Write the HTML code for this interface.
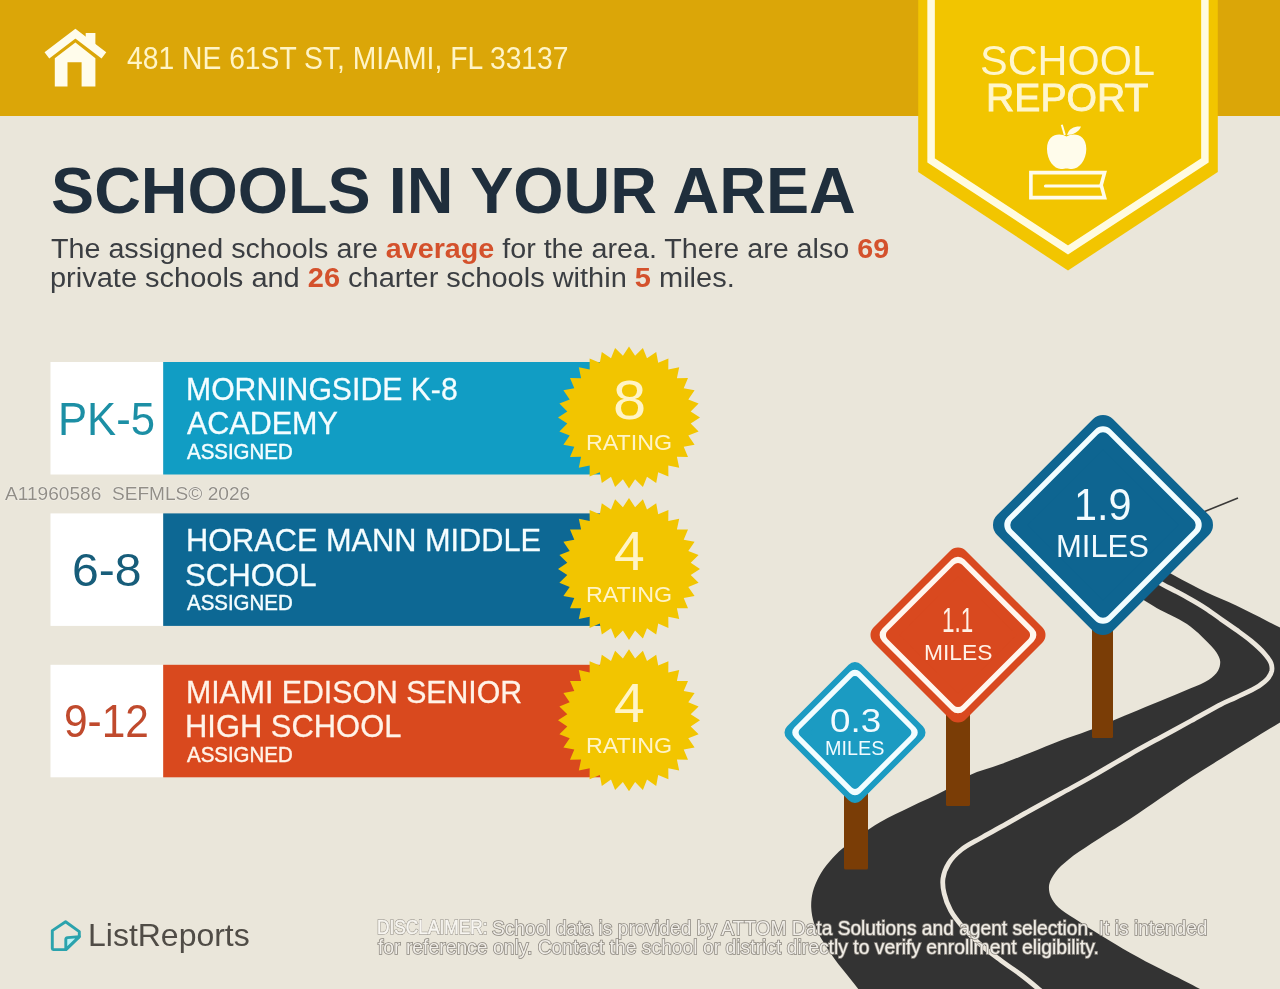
<!DOCTYPE html>
<html><head><meta charset="utf-8"><title>School Report</title>
<style>
html,body{margin:0;padding:0;background:#EAE6DA;}
body{width:1280px;height:989px;overflow:hidden;position:relative;background:#EAE6DA;font-family:'Liberation Sans', sans-serif;}
.s{position:absolute;left:0;top:0;}
.t{position:absolute;white-space:nowrap;line-height:1;transform-origin:0 0;}
.t b{font-weight:700;}
</style></head><body>
<svg class="s" width="1280" height="989" viewBox="0 0 1280 989"><rect x="0" y="0" width="1280" height="116" fill="#DBA608"/>
<polyline points="46.9,55.3 75.4,33.6 103.9,55.3" fill="none" stroke="#FFFCEB" stroke-width="7.8" stroke-linejoin="miter"/>
<polygon points="85.7,32.9 95.4,32.9 95.4,46 85.7,38.5" fill="#FFFCEB"/>
<path d="M54.8,86.6 V58.2 L75.4,42.6 L95.4,58.2 V86.6 H81.6 V62.2 H67.5 V86.6 Z" fill="#FFFCEB"/>
<polygon points="918.2,-2 1217.8,-2 1217.8,172 1068,270.5 918.2,172" fill="#F2C500"/>
<polyline points="931.1,-5 931.1,160.5 1068,250 1204.9,160.5 1204.9,-5" fill="none" stroke="#FFFBE0" stroke-width="7.5"/>
<path d="M1066.5,136.5 C1060,132.5 1047,133.5 1047,149 C1047,160 1054,169 1061,169 C1063.5,169 1065,168.5 1066.5,168.5 C1068,168.5 1069.5,169 1072,169 C1079,169 1086.3,160 1086.3,149 C1086.3,133.5 1073,132.5 1066.5,136.5 Z" fill="#FFFCEB"/>
<path d="M1061.8,124.8 L1064.8,135" stroke="#FFFCEB" stroke-width="2" fill="none"/>
<path d="M1067,135 C1069,128 1075,126 1081,126.5 C1079,132 1073,135 1067,135 Z" fill="#FFFCEB"/>
<path d="M1104.6,172.6 H1030.9 V197.6 H1104.6 L1101.2,185.1 Z" fill="none" stroke="#FFFCEB" stroke-width="3.6" stroke-linejoin="miter"/>
<path d="M1045.5,186 H1101" stroke="#FFFCEB" stroke-width="3.2" stroke-linecap="round"/>
<rect x="50.5" y="362" width="112.7" height="112.5" fill="#FFFFFF"/>
<rect x="163.2" y="362" width="440" height="112.5" fill="#119DC4"/>
<polygon points="629.0,346.5 635.1,355.8 642.9,347.9 647.0,358.2 656.2,351.9 658.2,362.8 668.4,358.5 668.3,369.6 679.2,367.3 676.9,378.2 688.0,378.1 683.7,388.3 694.6,390.3 688.3,399.5 698.6,403.6 690.7,411.4 700.0,417.5 690.7,423.6 698.6,431.4 688.3,435.5 694.6,444.7 683.7,446.7 688.0,456.9 676.9,456.8 679.2,467.7 668.3,465.4 668.4,476.5 658.2,472.2 656.2,483.1 647.0,476.8 642.9,487.1 635.1,479.2 629.0,488.5 622.9,479.2 615.1,487.1 611.0,476.8 601.8,483.1 599.8,472.2 589.6,476.5 589.7,465.4 578.8,467.7 581.1,456.8 570.0,456.9 574.3,446.7 563.4,444.7 569.7,435.5 559.4,431.4 567.3,423.6 558.0,417.5 567.3,411.4 559.4,403.6 569.7,399.5 563.4,390.3 574.3,388.3 570.0,378.1 581.1,378.2 578.8,367.3 589.7,369.6 589.6,358.5 599.8,362.8 601.8,351.9 611.0,358.2 615.1,347.9 622.9,355.8" fill="#F2C500"/>
<rect x="50.5" y="513.4" width="112.7" height="112.5" fill="#FFFFFF"/>
<rect x="163.2" y="513.4" width="440" height="112.5" fill="#0D6894"/>
<polygon points="629.0,497.9 635.1,507.2 642.9,499.3 647.0,509.6 656.2,503.3 658.2,514.2 668.4,509.9 668.3,521.0 679.2,518.7 676.9,529.6 688.0,529.5 683.7,539.7 694.6,541.7 688.3,550.9 698.6,555.0 690.7,562.8 700.0,568.9 690.7,575.0 698.6,582.8 688.3,586.9 694.6,596.1 683.7,598.1 688.0,608.3 676.9,608.2 679.2,619.1 668.3,616.8 668.4,627.9 658.2,623.6 656.2,634.5 647.0,628.2 642.9,638.5 635.1,630.6 629.0,639.9 622.9,630.6 615.1,638.5 611.0,628.2 601.8,634.5 599.8,623.6 589.6,627.9 589.7,616.8 578.8,619.1 581.1,608.2 570.0,608.3 574.3,598.1 563.4,596.1 569.7,586.9 559.4,582.8 567.3,575.0 558.0,568.9 567.3,562.8 559.4,555.0 569.7,550.9 563.4,541.7 574.3,539.7 570.0,529.5 581.1,529.6 578.8,518.7 589.7,521.0 589.6,509.9 599.8,514.2 601.8,503.3 611.0,509.6 615.1,499.3 622.9,507.2" fill="#F2C500"/>
<rect x="50.5" y="664.8" width="112.7" height="112.5" fill="#FFFFFF"/>
<rect x="163.2" y="664.8" width="440" height="112.5" fill="#D9491E"/>
<polygon points="629.0,649.3 635.1,658.6 642.9,650.7 647.0,661.0 656.2,654.7 658.2,665.6 668.4,661.3 668.3,672.4 679.2,670.1 676.9,681.0 688.0,680.9 683.7,691.1 694.6,693.1 688.3,702.3 698.6,706.4 690.7,714.2 700.0,720.3 690.7,726.4 698.6,734.2 688.3,738.3 694.6,747.5 683.7,749.5 688.0,759.7 676.9,759.6 679.2,770.5 668.3,768.2 668.4,779.3 658.2,775.0 656.2,785.9 647.0,779.6 642.9,789.9 635.1,782.0 629.0,791.3 622.9,782.0 615.1,789.9 611.0,779.6 601.8,785.9 599.8,775.0 589.6,779.3 589.7,768.2 578.8,770.5 581.1,759.6 570.0,759.7 574.3,749.5 563.4,747.5 569.7,738.3 559.4,734.2 567.3,726.4 558.0,720.3 567.3,714.2 559.4,706.4 569.7,702.3 563.4,693.1 574.3,691.1 570.0,680.9 581.1,681.0 578.8,670.1 589.7,672.4 589.6,661.3 599.8,665.6 601.8,654.7 611.0,661.0 615.1,650.7 622.9,658.6" fill="#F2C500"/>
<path d="M1140,557 C1150.8,562.8 1163.2,569.4 1172.5,574.4 C1179.4,578.1 1184.9,581.3 1190.7,584.3 C1195.9,587.0 1200.7,589.5 1205.8,591.9 C1210.8,594.3 1215.9,596.4 1221.0,598.7 C1226.1,601.0 1231.2,603.1 1236.2,605.5 C1241.3,607.9 1246.3,610.6 1251.3,613.1 C1256.4,615.6 1261.6,618.2 1266.5,620.7 C1271.1,623.0 1275.1,625.0 1280.0,627.5 C1286.0,630.5 1293.3,634.2 1300.0,637.5 L1310,640 L1310,712 L1300,710.5 C1293.3,714.5 1287.3,718.1 1280.0,722.5 C1271.3,727.8 1261.0,734.0 1251.3,740.0 C1241.3,746.1 1231.1,752.5 1221.0,758.8 C1210.9,765.1 1200.8,771.2 1190.7,777.7 C1180.5,784.3 1170.4,791.3 1160.3,798.2 C1150.2,805.1 1140.8,811.9 1130.0,819.0 C1117.9,827.0 1102.1,836.4 1091.0,843.8 C1082.4,849.5 1074.9,854.3 1068.6,859.5 C1063.4,863.8 1058.6,867.9 1055.3,872.4 C1052.5,876.3 1049.9,880.4 1049.2,884.5 C1048.5,888.4 1049.2,892.9 1050.7,896.6 C1052.2,900.5 1055.0,904.0 1058.3,907.3 C1062.3,911.3 1068.1,914.4 1074.0,918.3 C1081.3,923.2 1090.8,929.2 1099.0,934.3 C1106.9,939.2 1114.1,943.5 1122.5,948.4 C1132.1,953.9 1143.3,960.1 1153.8,965.6 C1164.1,971.0 1176.5,976.9 1185.0,981.2 C1190.9,984.2 1194.2,985.9 1200.0,989.0 C1208.3,993.4 1220.0,999.7 1230.0,1005.0 L870,1005 C866.1,999.7 862.2,994.1 858.3,989.0 C854.7,984.3 851.3,980.1 847.6,975.5 C843.7,970.6 839.4,965.7 835.5,960.3 C831.3,954.6 827.0,948.3 823.4,942.1 C819.9,936.1 816.3,930.0 814.3,923.9 C812.4,918.4 811.4,912.7 811.2,907.3 C811.0,902.1 811.6,897.1 812.8,892.1 C814.1,886.9 816.2,881.8 818.8,876.9 C821.6,871.7 825.4,866.5 829.4,861.8 C833.5,856.9 837.1,853.1 843.1,848.1 C852.2,840.5 868.0,829.3 880.0,822.2 C890.4,816.0 899.8,812.1 910.3,807.0 C921.5,801.5 934.8,796.0 945.2,790.3 C954.2,785.4 960.7,779.4 969.5,775.2 C979.0,770.7 990.3,768.1 1000.5,764.3 C1010.6,760.6 1020.3,756.7 1030.3,752.8 C1040.4,748.8 1050.8,744.4 1060.7,740.6 C1070.0,737.1 1078.0,734.7 1088.0,730.8 C1100.6,726.0 1117.1,718.7 1130.0,713.4 C1140.9,708.9 1150.2,705.2 1160.3,701.0 C1170.4,696.8 1181.9,692.2 1190.7,688.3 C1197.6,685.3 1204.1,683.2 1208.9,679.8 C1212.7,677.1 1216.1,674.0 1218.0,670.7 C1219.6,667.9 1220.4,664.6 1220.2,661.6 C1220.0,658.5 1218.4,655.6 1216.5,652.5 C1214.0,648.5 1209.8,644.4 1205.8,640.4 C1201.3,635.9 1195.9,630.6 1190.7,626.7 C1185.8,623.1 1180.6,620.4 1175.5,617.6 C1170.5,614.9 1165.3,612.7 1160.3,610.0 C1155.2,607.2 1151.1,604.5 1145.2,601.0 C1136.9,596.0 1125.1,589.0 1115.0,583.0 Z" fill="#333333"/>
<path d="M1130.0,566.0 C1140.9,572.1 1154.2,579.7 1162.6,584.3 C1167.9,587.2 1171.0,588.7 1175.5,591.1 C1180.4,593.7 1185.7,596.5 1190.7,599.4 C1195.8,602.3 1200.8,605.2 1205.8,608.5 C1210.9,611.8 1215.9,615.6 1221.0,619.2 C1226.1,622.7 1231.2,626.2 1236.2,629.8 C1241.3,633.5 1246.6,637.2 1251.3,641.1 C1255.7,644.8 1260.1,648.6 1263.5,652.5 C1266.5,655.9 1269.7,659.7 1271.0,663.1 C1272.0,665.7 1272.2,668.2 1271.8,670.7 C1271.3,673.3 1269.9,675.9 1268.0,678.3 C1265.8,681.1 1262.8,683.3 1258.9,685.9 C1253.2,689.6 1243.0,694.0 1236.2,697.3 C1230.7,700.0 1226.9,701.3 1221.0,704.3 C1212.6,708.6 1200.8,715.5 1190.7,721.0 C1180.6,726.6 1170.4,732.0 1160.3,737.6 C1150.2,743.1 1140.7,748.2 1130.0,754.3 C1117.8,761.2 1103.2,770.1 1091.0,777.0 C1080.3,783.1 1070.8,788.1 1060.7,793.7 C1050.6,799.3 1040.3,804.8 1030.3,810.4 C1020.5,815.8 1010.2,821.8 1001.3,826.7 C993.8,830.9 987.2,834.3 980.5,838.2 C974.0,841.9 967.0,845.1 961.6,849.5 C956.6,853.5 951.8,858.2 948.7,863.2 C945.8,867.9 943.7,873.3 943.0,878.4 C942.3,883.4 943.0,888.5 944.2,893.6 C945.4,899.1 947.7,904.9 950.6,910.3 C953.7,916.1 958.2,921.6 962.8,927.0 C967.7,932.8 973.3,938.3 979.4,943.7 C985.9,949.5 993.6,955.0 1000.7,960.3 C1007.7,965.6 1015.3,970.5 1021.9,975.5 C1027.9,980.0 1033.1,984.4 1038.6,989.0 C1044.1,993.6 1049.5,998.3 1055.0,1003.0" fill="none" stroke="#ECE7DD" stroke-width="4.8"/>
<line x1="1196" y1="515" x2="1238" y2="498" stroke="#3a3938" stroke-width="1.6"/>
<rect x="844" y="732.5" width="24" height="137.0" fill="#7A3D06" rx="1.5"/>
<path d="M855,671.0 L916.5,732.5 L855,794.0 L793.5,732.5 Z" fill="#1B9BC2" stroke="#1B9BC2" stroke-width="18.00" stroke-linejoin="round" />
<path d="M855,676.939696961967 L910.560303038033,732.5 L855,788.060303038033 L799.439696961967,732.5 Z" fill="#F2FDFF" stroke="#F2FDFF" stroke-width="14.40" stroke-linejoin="round" />
<path d="M855,680.616652224137 L906.883347775863,732.5 L855,784.383347775863 L803.116652224137,732.5 Z" fill="#1B9BC2" stroke="#1B9BC2" stroke-width="9.00" stroke-linejoin="round" />
<rect x="946" y="635" width="24" height="171" fill="#7A3D06" rx="1.5"/>
<path d="M958,558.5 L1034.5,635 L958,711.5 L881.5,635 Z" fill="#D9491F" stroke="#D9491F" stroke-width="22.00" stroke-linejoin="round" />
<path d="M958,565.4296464556281 L1027.5703535443718,635 L958,704.5703535443719 L888.4296464556281,635 Z" fill="#FFF6EE" stroke="#FFF6EE" stroke-width="17.60" stroke-linejoin="round" />
<path d="M958,568.3994949366116 L1024.6005050633883,635 L958,701.6005050633884 L891.3994949366116,635 Z" fill="#D9491F" stroke="#D9491F" stroke-width="11.00" stroke-linejoin="round" />
<rect x="1092" y="525" width="21" height="213" fill="#7A3D06" rx="1.5"/>
<path d="M1103,429.0 L1199.0,525 L1103,621.0 L1007.0,525 Z" fill="#0E6591" stroke="#0E6591" stroke-width="28.00" stroke-linejoin="round" />
<path d="M1103,437.4852813742386 L1190.5147186257614,525 L1103,612.5147186257615 L1015.4852813742385,525 Z" fill="#F2FDFF" stroke="#F2FDFF" stroke-width="22.40" stroke-linejoin="round" />
<path d="M1103,439.3237590053236 L1188.6762409946764,525 L1103,610.6762409946764 L1017.3237590053236,525 Z" fill="#0E6591" stroke="#0E6591" stroke-width="14.00" stroke-linejoin="round" />
<path d="M65.6,921.8 L79.3,931.6 L79.3,936.6 L65.8,949.6 H53.2 Q52.3,949.6 52.3,948.6 V930.6 Z" fill="none" stroke="#2BA3AD" stroke-width="2.9" stroke-linejoin="round"/>
<path d="M79.3,936.6 L67.6,937.6 Q65.8,937.8 65.8,939.6 V949.6 Z" fill="#BDF3F6" stroke="#2BA3AD" stroke-width="2.9" stroke-linejoin="round"/></svg>
<div class="t" style="left:127.47px;top:43.46px;font-size:30.52px;font-weight:400;color:#FFF4C6;transform:scaleX(0.9264);">481 NE 61ST ST, MIAMI, FL 33137</div><div class="t" style="left:979.93px;top:39.82px;font-size:41.86px;font-weight:400;color:#FFF6CC;transform:scaleX(0.9896);">SCHOOL</div><div class="t" style="left:985.88px;top:78.97px;font-size:38.62px;font-weight:400;color:#FFF6CC;transform:scaleX(1.0147);-webkit-text-stroke:0.9px #FFF6CC;">REPORT</div><div class="t" style="left:50.51px;top:159.36px;font-size:64.54px;font-weight:700;color:#1F2E3C;transform:scaleX(1.0020);">SCHOOLS IN YOUR AREA</div><div class="t" style="left:50.56px;top:234.62px;font-size:27.62px;font-weight:400;color:#3B3E42;transform:scaleX(1.0388);">The assigned schools are <b style="color:#D4512C;font-weight:700">average</b> for the area. There are also <b style="color:#D4512C;font-weight:700">69</b></div><div class="t" style="left:50.40px;top:263.52px;font-size:27.62px;font-weight:400;color:#3B3E42;transform:scaleX(1.0498);">private schools and <b style="color:#D4512C;font-weight:700">26</b> charter schools within <b style="color:#D4512C;font-weight:700">5</b> miles.</div><div class="t" style="left:58.25px;top:396.20px;font-size:46.51px;font-weight:400;color:#1C8FA5;transform:scaleX(0.9381);">PK-5</div><div class="t" style="left:185.79px;top:373.95px;font-size:31.11px;font-weight:400;color:#F4FDFF;transform:scaleX(0.9702);-webkit-text-stroke:0.3px #F4FDFF;">MORNINGSIDE K-8</div><div class="t" style="left:187.00px;top:407.28px;font-size:32.27px;font-weight:400;color:#F4FDFF;transform:scaleX(0.9451);-webkit-text-stroke:0.3px #F4FDFF;">ACADEMY</div><div class="t" style="left:186.70px;top:441.92px;font-size:21.51px;font-weight:400;color:#F4FDFF;transform:scaleX(0.9514);-webkit-text-stroke:0.45px #F4FDFF;">ASSIGNED</div><div class="t" style="left:612.85px;top:373.00px;font-size:55.23px;font-weight:400;color:#FFF4C6;transform:scaleX(1.0769);">8</div><div class="t" style="left:586.00px;top:432.12px;font-size:21.89px;font-weight:400;color:#FFF4C6;transform:scaleX(1.0625);">RATING</div><div class="t" style="left:72.23px;top:547.00px;font-size:46.51px;font-weight:400;color:#175D7A;transform:scaleX(1.0349);">6-8</div><div class="t" style="left:185.75px;top:525.35px;font-size:31.11px;font-weight:400;color:#F4FDFF;transform:scaleX(0.9874);-webkit-text-stroke:0.3px #F4FDFF;">HORACE MANN MIDDLE</div><div class="t" style="left:185.06px;top:558.68px;font-size:32.27px;font-weight:400;color:#F4FDFF;transform:scaleX(0.9655);-webkit-text-stroke:0.3px #F4FDFF;">SCHOOL</div><div class="t" style="left:186.70px;top:593.32px;font-size:21.51px;font-weight:400;color:#F4FDFF;transform:scaleX(0.9514);-webkit-text-stroke:0.45px #F4FDFF;">ASSIGNED</div><div class="t" style="left:614.00px;top:524.40px;font-size:55.23px;font-weight:400;color:#FFF4C6;transform:scaleX(1.0000);">4</div><div class="t" style="left:586.00px;top:583.52px;font-size:21.89px;font-weight:400;color:#FFF4C6;transform:scaleX(1.0625);">RATING</div><div class="t" style="left:63.88px;top:698.20px;font-size:46.51px;font-weight:400;color:#C04A2D;transform:scaleX(0.9124);">9-12</div><div class="t" style="left:185.78px;top:676.75px;font-size:31.11px;font-weight:400;color:#FFF3E8;transform:scaleX(0.9723);-webkit-text-stroke:0.3px #FFF3E8;">MIAMI EDISON SENIOR</div><div class="t" style="left:185.08px;top:710.08px;font-size:32.27px;font-weight:400;color:#FFF3E8;transform:scaleX(0.9578);-webkit-text-stroke:0.3px #FFF3E8;">HIGH SCHOOL</div><div class="t" style="left:186.70px;top:744.72px;font-size:21.51px;font-weight:400;color:#FFF3E8;transform:scaleX(0.9514);-webkit-text-stroke:0.45px #FFF3E8;">ASSIGNED</div><div class="t" style="left:614.00px;top:675.80px;font-size:55.23px;font-weight:400;color:#FFF4C6;transform:scaleX(1.0000);">4</div><div class="t" style="left:586.00px;top:734.92px;font-size:21.89px;font-weight:400;color:#FFF4C6;transform:scaleX(1.0625);">RATING</div><div class="t" style="left:4.50px;top:485.10px;font-size:18.36px;font-weight:400;color:#928E86;transform:scaleX(1.0403);text-shadow:0 0 1px #fff,0 0 1px #fff">A11960586&nbsp;&nbsp;SEFMLS©&nbsp;2026</div><div class="t" style="left:829.91px;top:702.56px;font-size:34.01px;font-weight:400;color:#F2FBFF;transform:scaleX(1.0815);">0.3</div><div class="t" style="left:824.64px;top:738.95px;font-size:19.48px;font-weight:400;color:#F2FBFF;transform:scaleX(1.0153);">MILES</div><div class="t" style="left:942.09px;top:602.75px;font-size:35.47px;font-weight:400;color:#FFF1E6;transform:scaleX(0.6311);">1.1</div><div class="t" style="left:923.74px;top:642.12px;font-size:21.89px;font-weight:400;color:#FFF1E6;transform:scaleX(1.0419);">MILES</div><div class="t" style="left:1074.21px;top:483.08px;font-size:43.90px;font-weight:400;color:#F2FBFF;transform:scaleX(0.9420);">1.9</div><div class="t" style="left:1056.16px;top:530.09px;font-size:31.99px;font-weight:400;color:#F2FBFF;transform:scaleX(0.9678);">MILES</div><div class="t" style="left:88.46px;top:919.96px;font-size:30.52px;font-weight:400;color:#504C46;transform:scaleX(1.0480);">ListReports</div><div class="t" style="left:377.24px;top:918.14px;font-size:19.77px;font-weight:400;color:#8c877f;transform:scaleX(0.8752);-webkit-text-stroke:1.6px #8c877f;filter:blur(0.6px);">DISCLAIMER:</div><div class="t" style="left:377.24px;top:918.14px;font-size:19.77px;font-weight:400;color:#F8F6F1;transform:scaleX(0.8752);-webkit-text-stroke:0.6px #F8F6F1;">DISCLAIMER:</div><div class="t" style="left:492.44px;top:917.92px;font-size:20.06px;font-weight:400;color:#8c877f;transform:scaleX(0.9564);-webkit-text-stroke:1.6px #8c877f;filter:blur(0.6px);">School data is provided by ATTOM Data Solutions and agent selection. It is intended</div><div class="t" style="left:492.44px;top:917.92px;font-size:20.06px;font-weight:400;color:#F1EEE8;transform:scaleX(0.9564);">School data is provided by ATTOM Data Solutions and agent selection. It is intended</div><div class="t" style="left:378.10px;top:937.12px;font-size:20.06px;font-weight:400;color:#8c877f;transform:scaleX(0.9637);-webkit-text-stroke:1.6px #8c877f;filter:blur(0.6px);">for reference only. Contact the school or district directly to verify enrollment eligibility.</div><div class="t" style="left:378.10px;top:937.12px;font-size:20.06px;font-weight:400;color:#F1EEE8;transform:scaleX(0.9637);">for reference only. Contact the school or district directly to verify enrollment eligibility.</div>
</body></html>
